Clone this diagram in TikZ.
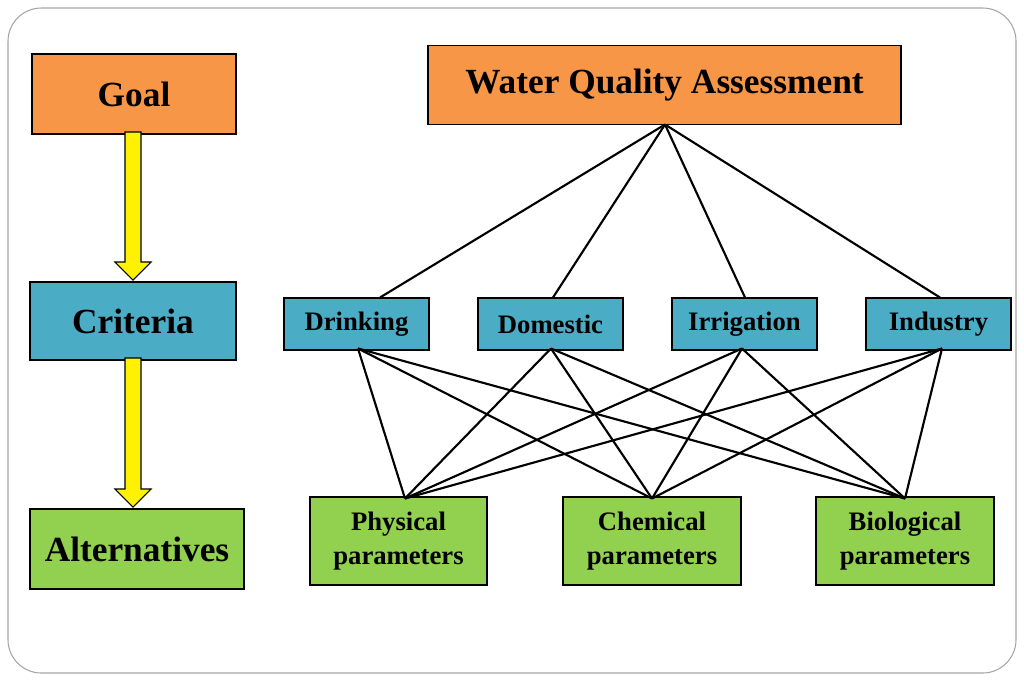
\documentclass[tikz,border=0pt]{standalone}
\usepackage{fontspec}
\setmainfont{Liberation Serif}
\begin{document}
\begin{tikzpicture}[x=0.75pt,y=-0.75pt,
 box/.style={draw=black,line width=1.3pt,font=\bfseries,align=center,inner sep=0pt},
 org/.style={box,fill={rgb,255:red,247;green,150;blue,70}},
 blu/.style={box,fill={rgb,255:red,75;green,172;blue,198}},
 grn/.style={box,fill={rgb,255:red,146;green,208;blue,80}},
 ln/.style={line width=1.6pt},
 yarr/.style={fill=yellow,draw=black,line width=0.8pt}]
\useasboundingbox (0,0) rectangle (1024,683);
\draw[gray!70,line width=0.8pt,rounded corners=25] (8,8) rectangle (1016,673);
\node[org,minimum width=153pt,minimum height=60pt,font=\bfseries\fontsize{26.5}{30}\selectfont] (goal) at (134,94) {Goal};
\node[blu,minimum width=154.5pt,minimum height=58.5pt,font=\bfseries\fontsize{26.5}{30}\selectfont] (crit) at (133,321) {Criteria};
\node[grn,minimum width=160.5pt,minimum height=60pt,font=\bfseries\fontsize{26.5}{30}\selectfont] (alt) at (137,549) {Alternatives};
\draw[yarr] (125,132) -- (141,132) -- (141,262) -- (151,262) -- (133,280) -- (115,262) -- (125,262) -- cycle;
\draw[yarr] (125,358) -- (141,358) -- (141,489) -- (151,489) -- (133,507) -- (115,489) -- (125,489) -- cycle;
\node[org,minimum width=354.75pt,minimum height=59.25pt,font=\bfseries\fontsize{26.5}{30}\selectfont] (wqa) at (664.5,85) {Water Quality Assessment};
\foreach \n/\x/\t in {d1/356.5/Drinking,d2/550.5/Domestic,d3/744.5/Irrigation,d4/938.5/Industry}
 \node[blu,minimum width=108.75pt,minimum height=39pt,font=\bfseries\fontsize{20}{23}\selectfont] (\n) at (\x,324) {\t};
\foreach \n/\x/\t in {p1/398.5/Physical,p2/652/Chemical,p3/905/Biological}
 \node[grn,minimum width=133pt,minimum height=66pt,font=\bfseries\fontsize{20}{25}\selectfont] (\n) at (\x,541) {\t\\parameters};
\coordinate (apex) at (665,124.5);
\draw[ln] (apex) -- (380,297.5);
\draw[ln] (apex) -- (553,297.5);
\draw[ln] (apex) -- (745,297.5);
\draw[ln] (apex) -- (940,297.5);
\foreach \a/\ax in {d1/358,d2/551,d3/742,d4/942}
 \foreach \b/\bx in {p1/405,p2/652,p3/905}
  \draw[ln] (\ax,348.5) -- (\bx,498.5);
\end{tikzpicture}
\end{document}
